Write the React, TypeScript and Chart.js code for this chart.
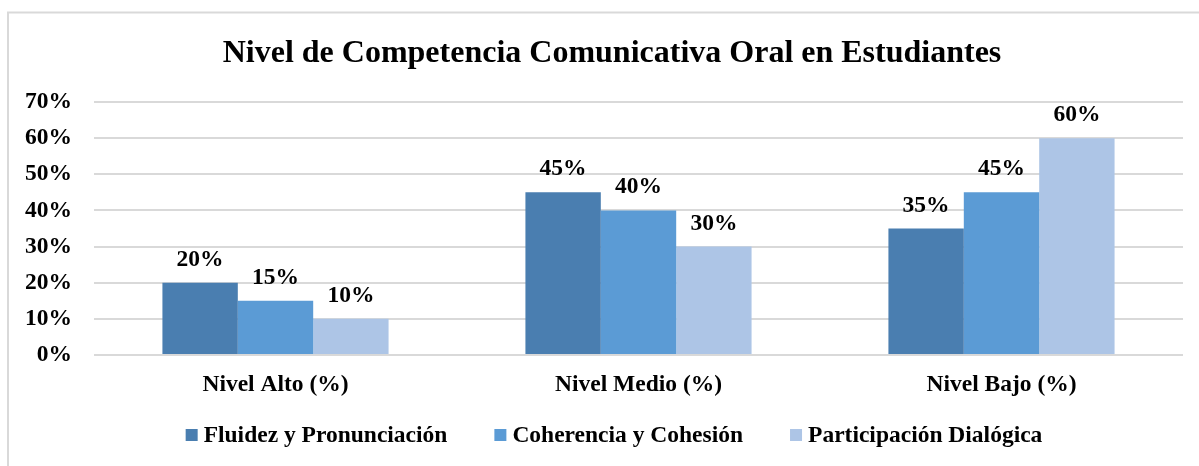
import React, { useEffect, useRef } from "react";
import { Chart, registerables } from "chart.js";
Chart.register(...registerables);

const chartTitle = "Nivel de Competencia Comunicativa Oral en Estudiantes";
const categories = ["Nivel Alto (%)", "Nivel Medio (%)", "Nivel Bajo (%)"];
const seriesNames = ["Fluidez y Pronunciación", "Coherencia y Cohesión", "Participación Dialógica"];
const fluidez = [20, 45, 35];
const coherencia = [15, 40, 45];
const participacion = [10, 30, 60];
const seriesColors = ["#4A7EB0", "#5B9BD5", "#ADC5E6"];
const yMax = 70;
const yStep = 10;

const FONT = '"Liberation Serif", "Times New Roman", serif';
const W = 1199;
const H = 466;

const framePlugin = {
  id: "frame",
  beforeDraw(chart: any) {
    const ctx = chart.ctx;
    ctx.save();
    ctx.fillStyle = "#ffffff";
    ctx.fillRect(0, 0, W, H);
    ctx.strokeStyle = "#d9d9d9";
    ctx.lineWidth = 2;
    ctx.beginPath();
    ctx.moveTo(8, H + 5);
    ctx.lineTo(8, 12.5);
    ctx.lineTo(W + 5, 12.5);
    ctx.stroke();
    ctx.restore();
  },
};

const titlePlugin = {
  id: "customTitle",
  afterDraw(chart: any) {
    const ctx = chart.ctx;
    ctx.save();
    ctx.font = `bold 32px ${FONT}`;
    ctx.fillStyle = "#000";
    ctx.textAlign = "center";
    ctx.textBaseline = "alphabetic";
    ctx.fillText(chartTitle, 612, 62);
    ctx.restore();
  },
};

const labelsPlugin = {
  id: "barLabels",
  afterDatasetsDraw(chart: any) {
    const ctx = chart.ctx;
    ctx.save();
    ctx.font = `bold 23.5px ${FONT}`;
    ctx.fillStyle = "#000";
    ctx.textAlign = "center";
    ctx.textBaseline = "alphabetic";
    chart.data.datasets.forEach((ds: any, i: number) => {
      const meta = chart.getDatasetMeta(i);
      meta.data.forEach((bar: any, j: number) => {
        ctx.fillText(`${ds.data[j]}%`, bar.x, bar.y - 17);
      });
    });
    ctx.restore();
  },
};

const legendPlugin = {
  id: "customLegend",
  afterDraw(chart: any) {
    const ctx = chart.ctx;
    ctx.save();
    ctx.font = `bold 23.5px ${FONT}`;
    const box = 12;
    const gap = 6;
    const itemGap = 47;
    const widths = seriesNames.map((n) => ctx.measureText(n).width);
    const total = widths.reduce((a, b) => a + b, 0) + seriesNames.length * (box + gap) + itemGap * (seriesNames.length - 1);
    let x = 614 - total / 2;
    ctx.textBaseline = "alphabetic";
    ctx.textAlign = "left";
    seriesNames.forEach((n, i) => {
      ctx.fillStyle = seriesColors[i];
      ctx.fillRect(x, 429, box, box);
      ctx.fillStyle = "#000";
      ctx.fillText(n, x + box + gap, 442);
      x += box + gap + widths[i] + itemGap;
    });
    ctx.restore();
  },
};

export default function App() {
  const ref = useRef<HTMLCanvasElement | null>(null);
  useEffect(() => {
    if (!ref.current) return;
    const values = [fluidez, coherencia, participacion];
    const chart = new Chart(ref.current, {
      type: "bar",
      data: {
        labels: categories,
        datasets: seriesNames.map((name, i) => ({
          label: name,
          data: values[i],
          backgroundColor: seriesColors[i],
          borderWidth: 0,
          barPercentage: 1,
          categoryPercentage: 0.623,
        })),
      },
      options: {
        responsive: false,
        animation: false,
        layout: { padding: { top: 102, left: 0, right: 16, bottom: 0 } },
        plugins: {
          legend: { display: false },
          title: { display: false },
          tooltip: { enabled: false },
        },
        scales: {
          x: {
            grid: { display: false, drawTicks: false },
            border: { display: false },
            ticks: {
              color: "#000",
              font: { family: FONT, size: 23.5, weight: "bold" },
              padding: 16,
              maxRotation: 0,
              autoSkip: false,
            },
            afterFit(scale: any) {
              scale.height = H - 355;
            },
          },
          y: {
            min: 0,
            max: yMax,
            grid: { color: "#d9d9d9", lineWidth: 2, drawTicks: false },
            border: { display: false },
            ticks: {
              stepSize: yStep,
              color: "#000",
              font: { family: FONT, size: 23.5, weight: "bold" },
              padding: 22,
              callback: (v: any) => `${v}%`,
            },
            afterFit(scale: any) {
              scale.width = 94;
            },
          },
        },
      },
      plugins: [framePlugin, titlePlugin, labelsPlugin, legendPlugin],
    });
    return () => chart.destroy();
  }, []);
  return (
    <canvas
      ref={ref}
      width={W}
      height={H}
      style={{ position: "absolute", left: 0, top: 0, display: "block" }}
    />
  );
}
